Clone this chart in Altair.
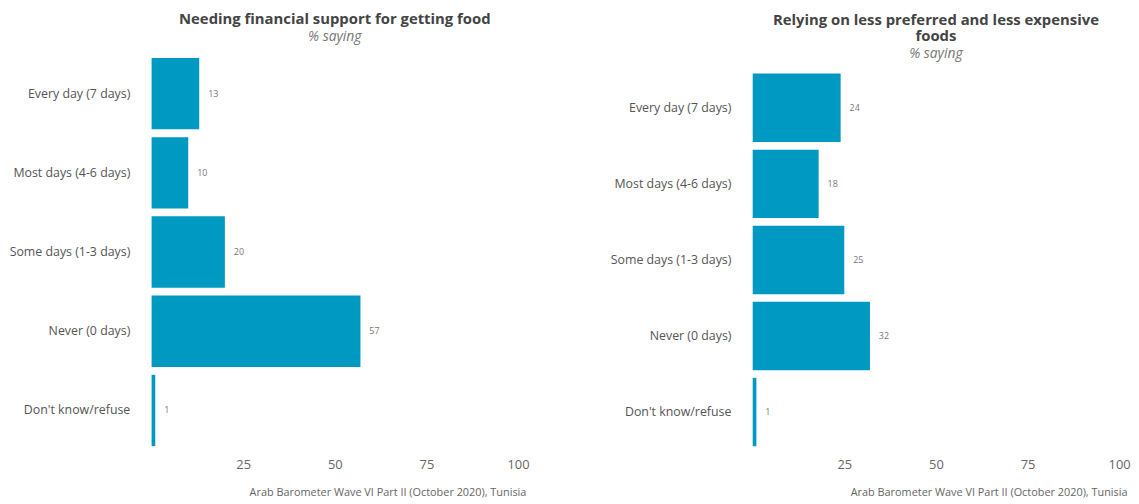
import altair as alt
import pandas as pd

categories = ["Every day (7 days)", "Most days (4-6 days)", "Some days (1-3 days)",
              "Never (0 days)", "Don't know/refuse"]
financial_support = [13, 10, 20, 57, 1]
less_preferred = [24, 18, 25, 32, 1]
x_ticks = [25, 50, 75, 100]

title_left = "Needing financial support for getting food"
title_right = ["Relying on less preferred and less expensive", "foods"]
subtitle = "% saying"
caption = "Arab Barometer Wave VI Part II (October 2020), Tunisia"

BAR = "#0099C2"
FONT = "Open Sans"
H = 400


def panel(values, title, top, extent, offset):
    df = pd.DataFrame({"cat": categories, "val": values})
    base = alt.Chart(df)
    y = alt.Y("cat:N", sort=categories, title=None,
              scale=alt.Scale(paddingInner=0.1, paddingOuter=0.05, range=[top, H]),
              axis=alt.Axis(domain=False, ticks=False, labelPadding=22,
                            labelFontSize=12.5, labelColor="#555555", labelFont=FONT,
                            minExtent=extent, maxExtent=extent, labelLimit=300))
    x = alt.X("val:Q", scale=alt.Scale(domain=[0, 100]),
              axis=alt.Axis(values=x_ticks, domain=False, ticks=False, grid=False,
                            labelFlush=False,
                            labelPadding=9, labelFontSize=13, labelColor="#666666",
                            labelFont=FONT, title=caption, titleFont=FONT,
                            titleFontSize=11, titleFontWeight="normal",
                            titleColor="#666666", titleAlign="right",
                            titleX=378, titlePadding=15))
    bars = base.mark_bar(color=BAR).encode(x=x, y=y)
    labels = base.mark_text(align="left", dx=9, fontSize=9, color="#777777",
                            font=FONT).encode(x="val:Q", y=alt.Y("cat:N", sort=categories),
                                              text="val:Q")
    return alt.layer(bars, labels).properties(
        width=370, height=H,
        title=alt.TitleParams(text=title, subtitle=subtitle, frame="group",
                              anchor="middle", font=FONT, fontSize=15,
                              fontWeight="bold", color="#444444",
                              subtitleFont=FONT, subtitleFontSize=14,
                              subtitleFontStyle="italic", subtitleColor="#777777",
                              lineHeight=16, subtitleLineHeight=16,
                              subtitlePadding=3, offset=offset))


left = panel(financial_support, title_left, 0, 141, 10)
right = panel(less_preferred, title_right, 16, 140, -7)

chart = alt.hconcat(left, right, spacing=80).properties(
    padding={"left": 0, "top": 2, "right": 0, "bottom": 0}
).configure_view(stroke=None)

chart.save("out.html", embed_options={"renderer": "svg", "actions": False})
